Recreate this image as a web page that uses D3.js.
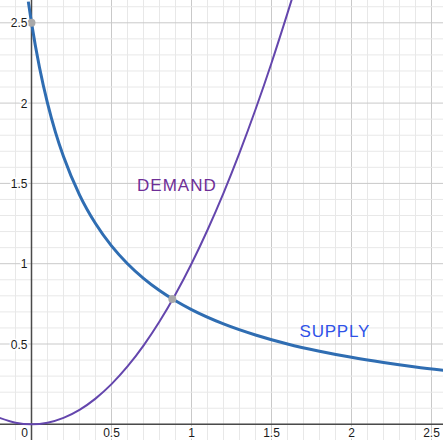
<!DOCTYPE html>
<html>
<head>
<meta charset="utf-8">
<script src="https://cdn.jsdelivr.net/npm/d3@7"></script>
<style>
  body { margin: 0; background: #fff; }
  svg { display: block; }
  text { font-family: "Liberation Sans", Arial, sans-serif; }
</style>
</head>
<body>
<div id="chart"></div>
<script>
const xTicks = [0, 0.5, 1, 1.5, 2, 2.5]
const yTicks = [0.5, 1, 1.5, 2, 2.5]

// blue curve
const supplyX = [-0.02, 0, 0.05, 0.1, 0.15, 0.2, 0.3, 0.4, 0.5, 0.6, 0.7, 0.8, 0.9, 1.0, 1.2, 1.4, 1.6, 1.8, 2.0, 2.2, 2.4, 2.6]
const supplyY = [2.632, 2.5, 2.222, 2.0, 1.818, 1.667, 1.429, 1.25, 1.111, 1.0, 0.909, 0.833, 0.769, 0.714, 0.625, 0.556, 0.5, 0.455, 0.417, 0.385, 0.357, 0.333]

// purple curve
const demandX = [-0.2, -0.1, 0, 0.1, 0.2, 0.3, 0.4, 0.5, 0.6, 0.7, 0.8, 0.9, 1.0, 1.1, 1.2, 1.3, 1.4, 1.5, 1.6, 1.65]
const demandY = [0.04, 0.01, 0, 0.01, 0.04, 0.09, 0.16, 0.25, 0.36, 0.49, 0.64, 0.81, 1.0, 1.21, 1.44, 1.69, 1.96, 2.25, 2.56, 2.72]

const dotX = [0, 0.88]
const dotY = [2.5, 0.78]

const W = 443, H = 440
const x0 = 31.5, y0 = 424.3, kx = 160, ky = 160.6

const d3x = d3.scaleLinear().domain([0, 1]).range([x0, x0 + kx])
const d3y = d3.scaleLinear().domain([0, 1]).range([y0, y0 - ky])
const xMin = d3x.invert(0), xMax = d3x.invert(W)
const yMin = d3y.invert(H), yMax = d3y.invert(0)

const svg = d3.select("#chart").append("svg").attr("width", W).attr("height", H)
svg.append("defs").html(`<clipPath id="clip"><rect x="0" y="0" width="${W}" height="${H}"/></clipPath>`)

const grid = svg.append("g")
const minorX = d3.range(Math.ceil(xMin * 10), Math.floor(xMax * 10) + 1).map(i => i / 10)
const minorY = d3.range(Math.ceil(yMin * 10), Math.floor(yMax * 10) + 1).map(i => i / 10)

minorX.forEach(v => {
  const major = Math.abs(v * 2 - Math.round(v * 2)) < 1e-6
  grid.append("line")
    .attr("x1", d3x(v)).attr("x2", d3x(v)).attr("y1", 0).attr("y2", H)
    .style("stroke", major ? "#c9c9c9" : "#e8e8e8").style("stroke-width", 1)
})
minorY.forEach(v => {
  const major = Math.abs(v * 2 - Math.round(v * 2)) < 1e-6
  grid.append("line")
    .attr("y1", d3y(v)).attr("y2", d3y(v)).attr("x1", 0).attr("x2", W)
    .style("stroke", major ? "#c9c9c9" : "#e8e8e8").style("stroke-width", 1)
})

// axes
svg.append("line").attr("x1", 0).attr("x2", W).attr("y1", d3y(0)).attr("y2", d3y(0))
  .style("stroke", "#4a4a4a").style("stroke-width", 1.5)
svg.append("line").attr("x1", d3x(0)).attr("x2", d3x(0)).attr("y1", 0).attr("y2", H)
  .style("stroke", "#4a4a4a").style("stroke-width", 1.5)

const main_g = svg.append("g").attr("clip-path", "url(#clip)")

const line = d3.line().curve(d3.curveMonotoneX)
  .x(d => d3x(d[0])).y(d => d3y(d[1]))

main_g.append("path")
  .attr("d", line(demandX.map((v, i) => [v, demandY[i]])))
  .style("fill", "none").style("stroke", "#6446ad").style("stroke-width", 2)

main_g.append("path")
  .attr("d", line(supplyX.map((v, i) => [v, supplyY[i]])))
  .style("fill", "none").style("stroke", "#2f6db2").style("stroke-width", 3)

dotX.forEach((v, i) => {
  main_g.append("circle").attr("cx", d3x(v)).attr("cy", d3y(dotY[i])).attr("r", 4)
    .style("fill", "#a9a9a9")
})

// tick labels
const lab = svg.append("g").style("font-size", "12px").style("fill", "#1a1a1a")
  .style("paint-order", "stroke").style("stroke", "#fff").style("stroke-width", 3)
xTicks.forEach(v => {
  lab.append("text")
    .attr("x", v === 0 ? d3x(v) - 7 : d3x(v))
    .attr("y", 437)
    .attr("text-anchor", "middle")
    .text(v)
})
yTicks.forEach(v => {
  lab.append("text")
    .attr("x", d3x(0) - 4)
    .attr("y", d3y(v) + 4.5)
    .attr("text-anchor", "end")
    .text(v)
})

svg.append("text").attr("x", d3x(0.66)).attr("y", d3y(1.453))
  .style("font-size", "17px").style("letter-spacing", "1px").style("fill", "#6e2e97")
  .text("DEMAND")
svg.append("text").attr("x", d3x(1.675)).attr("y", d3y(0.541))
  .style("font-size", "17px").style("letter-spacing", "0.8px").style("fill", "#2f52e8")
  .text("SUPPLY")
</script>
</body>
</html>
